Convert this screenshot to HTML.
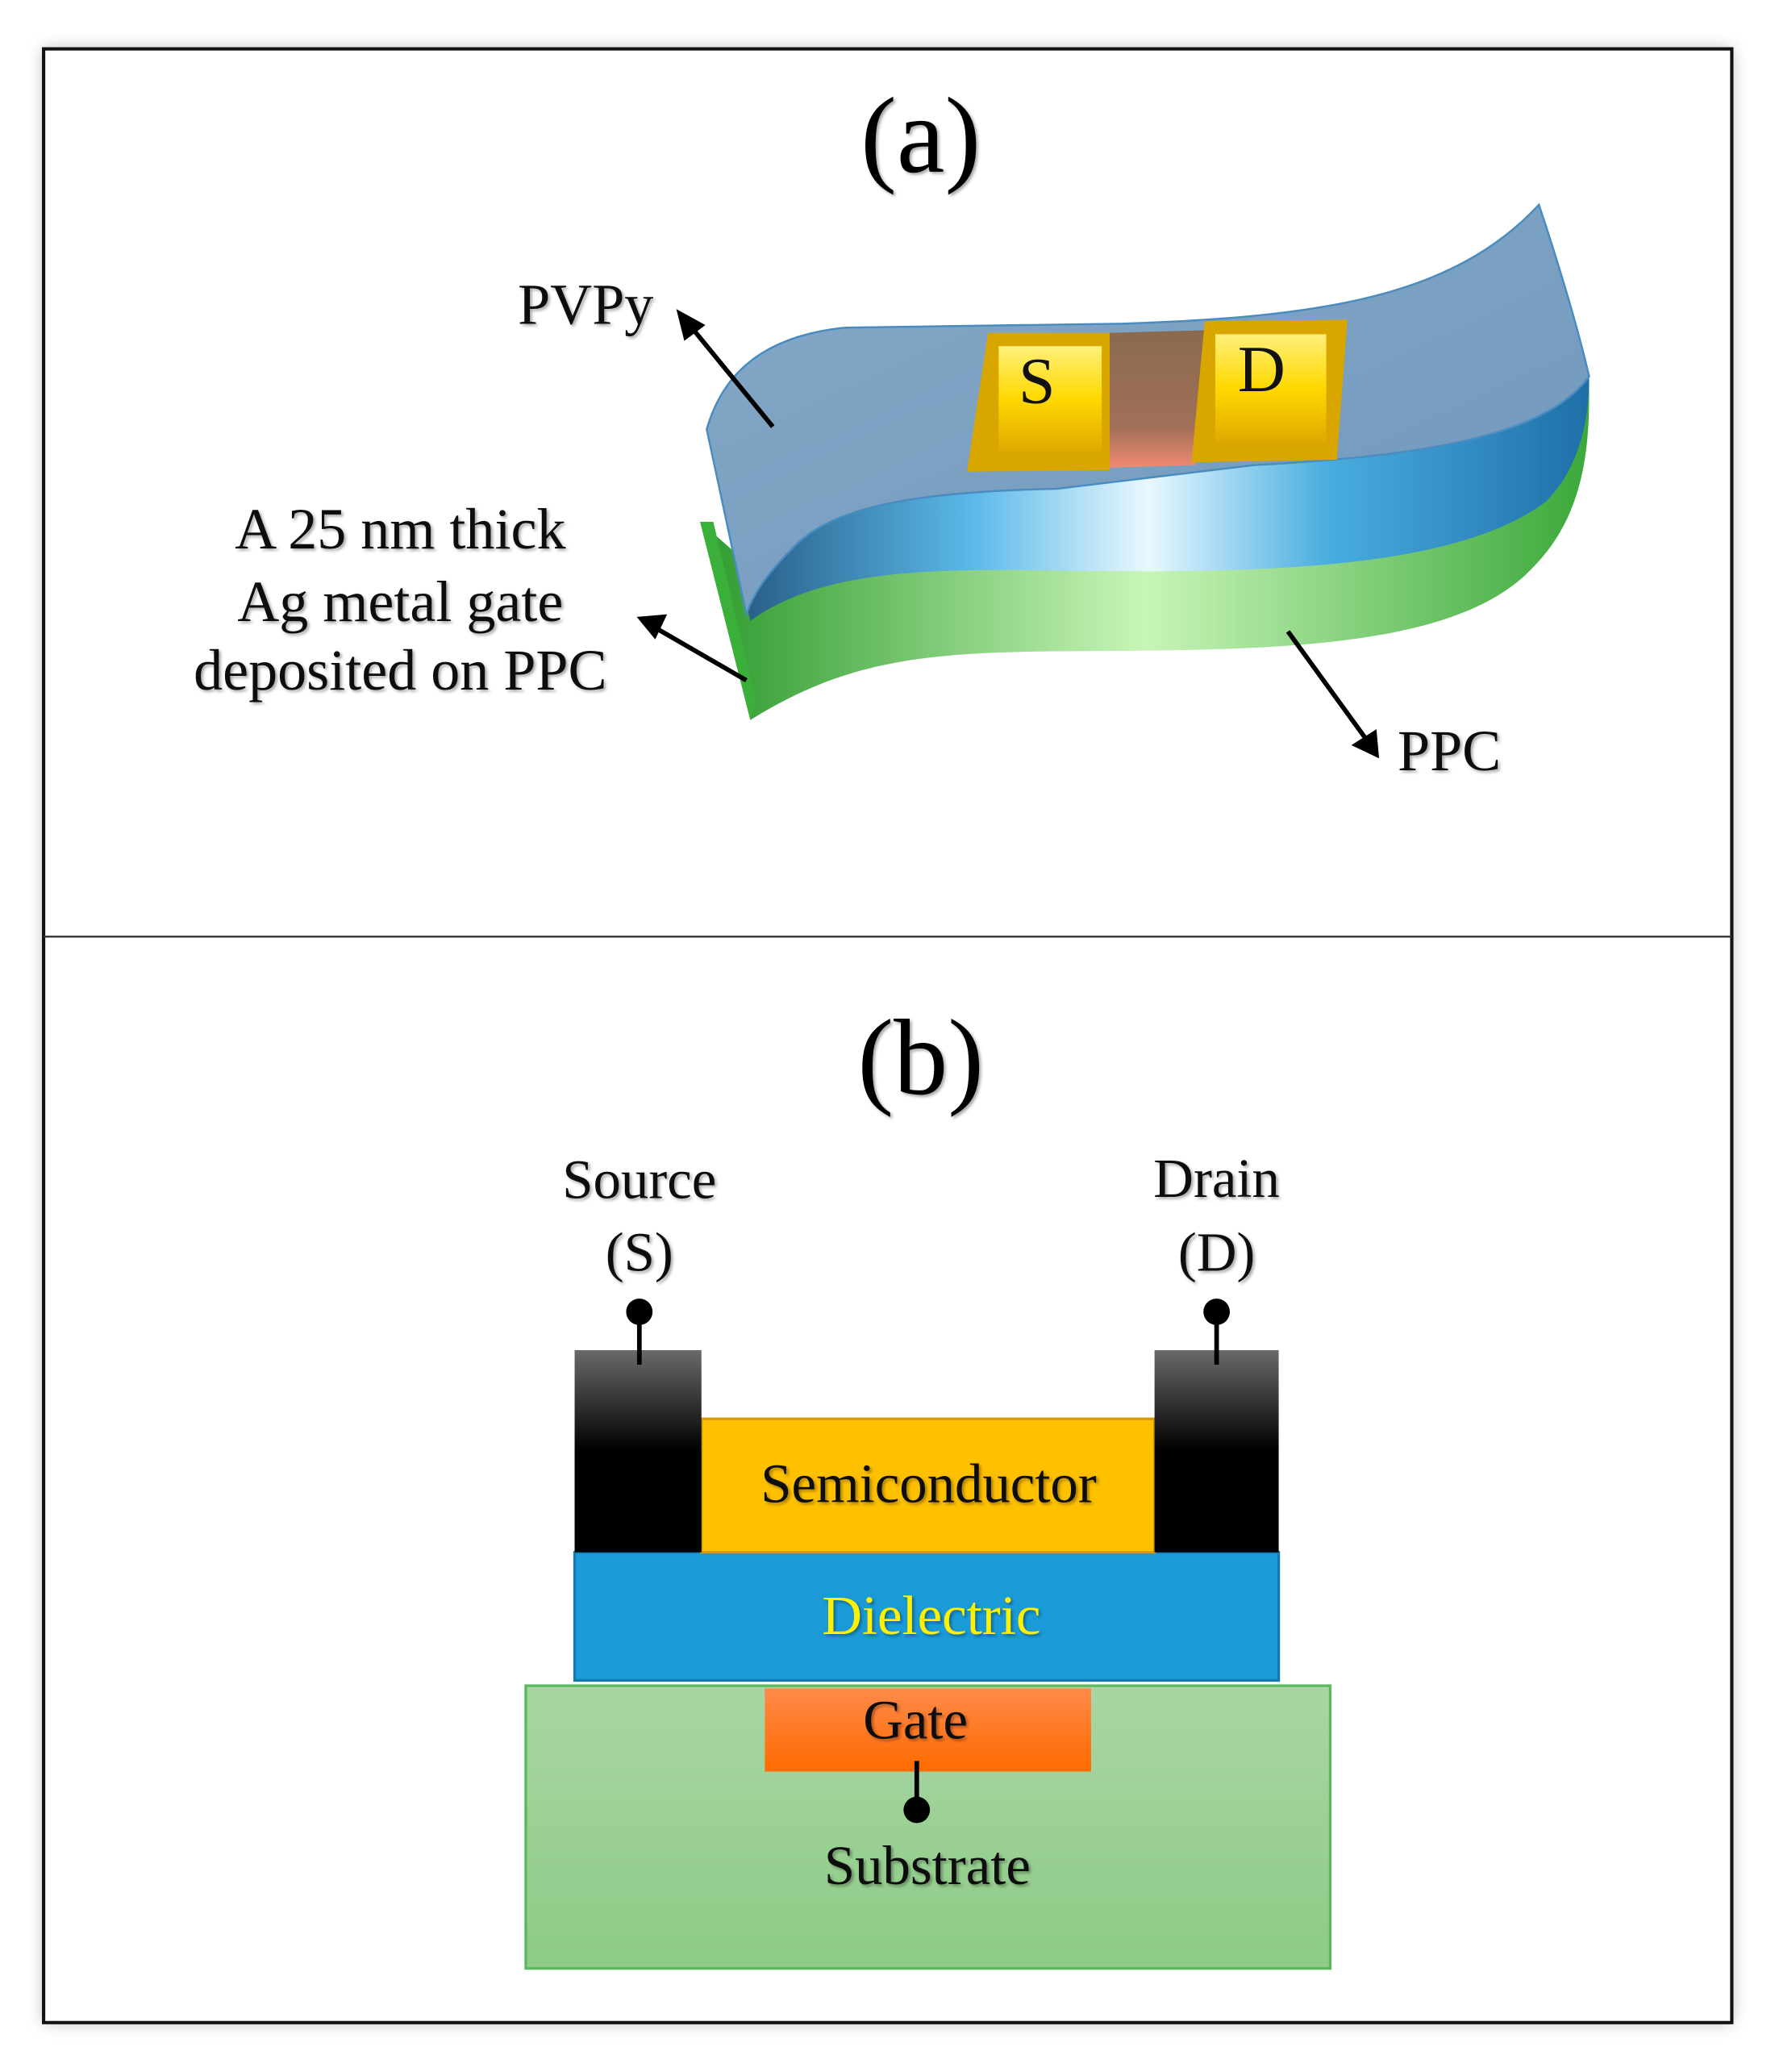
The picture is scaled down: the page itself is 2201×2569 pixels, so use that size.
<!DOCTYPE html>
<html><head><meta charset="utf-8"><style>
html,body{margin:0;padding:0;background:#fff;}
svg{display:block;}
text{font-family:"Liberation Serif",serif;}
</style></head><body>
<svg width="2201" height="2569" viewBox="0 0 1343.7 1568.4" xmlns="http://www.w3.org/2000/svg">
<defs>
<filter id="sh" x="-5%" y="-5%" width="110%" height="110%"><feGaussianBlur stdDeviation="6"/></filter>
<filter id="ts"><feDropShadow dx="1.5" dy="1.5" stdDeviation="1.2" flood-color="#000" flood-opacity="0.35"/></filter>
<linearGradient id="el" x1="0" y1="0" x2="0" y2="1"><stop offset="0" stop-color="#6a6a6a"/><stop offset="0.5" stop-color="#000"/><stop offset="1" stop-color="#000"/></linearGradient>
<linearGradient id="sub" x1="0" y1="0" x2="0" y2="1"><stop offset="0" stop-color="#a9d6a3"/><stop offset="1" stop-color="#8dcb86"/></linearGradient>
<linearGradient id="gate" x1="0" y1="0" x2="0" y2="1"><stop offset="0" stop-color="#ff8a4a"/><stop offset="1" stop-color="#ff6a00"/></linearGradient>
<linearGradient id="band" x1="0" y1="0" x2="1" y2="0"><stop offset="0" stop-color="#1f4f78"/><stop offset="0.3" stop-color="#5ab8e8"/><stop offset="0.5" stop-color="#e8f8ff"/><stop offset="0.7" stop-color="#4aaee0"/><stop offset="1" stop-color="#1e6fa8"/></linearGradient>
<linearGradient id="gband" x1="0" y1="0" x2="1" y2="0"><stop offset="0" stop-color="#2e9a2e"/><stop offset="0.5" stop-color="#c8f5b8"/><stop offset="1" stop-color="#3aa83a"/></linearGradient>
<linearGradient id="top" x1="0" y1="0" x2="1" y2="1"><stop offset="0" stop-color="#86a9c6"/><stop offset="1" stop-color="#6f97bd"/></linearGradient>
<linearGradient id="pad" x1="0" y1="0" x2="0" y2="1"><stop offset="0" stop-color="#fff07a"/><stop offset="0.5" stop-color="#ffd800"/><stop offset="1" stop-color="#e0a800"/></linearGradient>
<linearGradient id="ch" x1="0" y1="0" x2="0" y2="1"><stop offset="0" stop-color="#8a6a4e"/><stop offset="0.7" stop-color="#a07058"/><stop offset="1" stop-color="#f08a70"/></linearGradient>
</defs>
<rect x="33" y="37" width="1278" height="1494" fill="#888" filter="url(#sh)" opacity="0.6"/>
<rect x="33" y="37" width="1278" height="1494" fill="#fff" stroke="#111" stroke-width="2.5"/>
<line x1="33" y1="709" x2="1311" y2="709" stroke="#333" stroke-width="1.5"/>

<text x="697" y="130" font-size="82" text-anchor="middle" filter="url(#ts)">(a)</text>
<text x="697" y="828" font-size="82" text-anchor="middle" filter="url(#ts)">(b)</text>

<!-- part a device -->
<path d="M530,395 L568,545 C640,500 700,494 800,493 C950,492 1100,494 1160,430 C1195,395 1203,350 1203,300 L1203,285 L1100,380 L800,420 L570,430 Z" fill="url(#gband)"/>
<path d="M530,395 L568,545 L572,530 L540,395 Z" fill="#3ab03a"/>
<path d="M535,325 L568,470 C620,432 700,430 800,432 C950,434 1100,432 1170,380 C1195,355 1203,320 1203,285 L1100,330 L800,350 L560,360 Z" fill="url(#band)"/>
<path d="M535,325 C545,290 570,255 640,248 L850,245 C1000,240 1100,225 1165,155 C1180,200 1195,250 1203,285 C1170,330 1080,345 950,352 L800,370 C700,372 630,382 600,415 C580,435 570,450 565,465 Z" fill="url(#top)" stroke="#4a8cc0" stroke-width="1.5"/>
<!-- pads -->
<path d="M748,252 L846,252 L840,356 L732,357 Z" fill="#d9a600"/>
<rect x="756" y="262" width="78" height="80" fill="url(#pad)"/>
<path d="M840,252 L912,250 L905,352 L840,354 Z" fill="url(#ch)"/>
<path d="M912,243 L1020,242 L1012,348 L902,350 Z" fill="#d9a600"/>
<rect x="920" y="253" width="84" height="82" fill="url(#pad)"/>
<text x="785" y="305" font-size="50" text-anchor="middle" fill="#111">S</text>
<text x="955" y="296" font-size="50" text-anchor="middle" fill="#111">D</text>

<!-- arrows -->
<g stroke="#000" stroke-width="3.5" fill="#000">
<line x1="585" y1="323" x2="522" y2="246"/>
<line x1="565" y1="515" x2="494" y2="474"/>
<line x1="975" y1="478" x2="1036" y2="562"/>
</g>
<polygon points="512,234 534,246 518,258" fill="#000"/>
<polygon points="482,467 505,465 496,484" fill="#000"/>
<polygon points="1044,574 1023,564 1042,552" fill="#000"/>
<g font-size="44" fill="#111" filter="url(#ts)">
<text x="392" y="245">PVPy</text>
<text x="303" y="415" text-anchor="middle">A 25 nm thick</text>
<text x="303" y="470" text-anchor="middle">Ag metal gate</text>
<text x="303" y="522" text-anchor="middle">deposited on PPC</text>
<text x="1058" y="583">PPC</text>
</g>

<!-- part b -->
<rect x="398" y="1276" width="609" height="214" fill="url(#sub)" stroke="#5cb85c" stroke-width="2"/>
<rect x="579" y="1278" width="247" height="63" fill="url(#gate)"/>
<rect x="435" y="1175" width="533" height="97" fill="#1a9bd7" stroke="#1479b0" stroke-width="2"/>
<rect x="531" y="1074" width="343" height="101" fill="#ffc000" stroke="#d69a00" stroke-width="2"/>
<rect x="435" y="1022" width="96" height="153" fill="url(#el)"/>
<rect x="874" y="1022" width="94" height="153" fill="url(#el)"/>
<g stroke="#000" stroke-width="3.5"><line x1="484" y1="993" x2="484" y2="1033"/><line x1="921" y1="993" x2="921" y2="1033"/><line x1="694" y1="1333" x2="694" y2="1370"/></g>
<circle cx="484" cy="993" r="10"/><circle cx="921" cy="993" r="10"/><circle cx="694" cy="1370" r="10"/>
<g font-size="42" fill="#111" text-anchor="middle" filter="url(#ts)">
<text x="484" y="907">Source</text>
<text x="484" y="962">(S)</text>
<text x="921" y="906">Drain</text>
<text x="921" y="962">(D)</text>
<text x="703" y="1137">Semiconductor</text>
<text x="705" y="1237" fill="#ffef00">Dielectric</text>
<text x="693" y="1316">Gate</text>
<text x="702" y="1426">Substrate</text>
</g>
</svg>
</body></html>
